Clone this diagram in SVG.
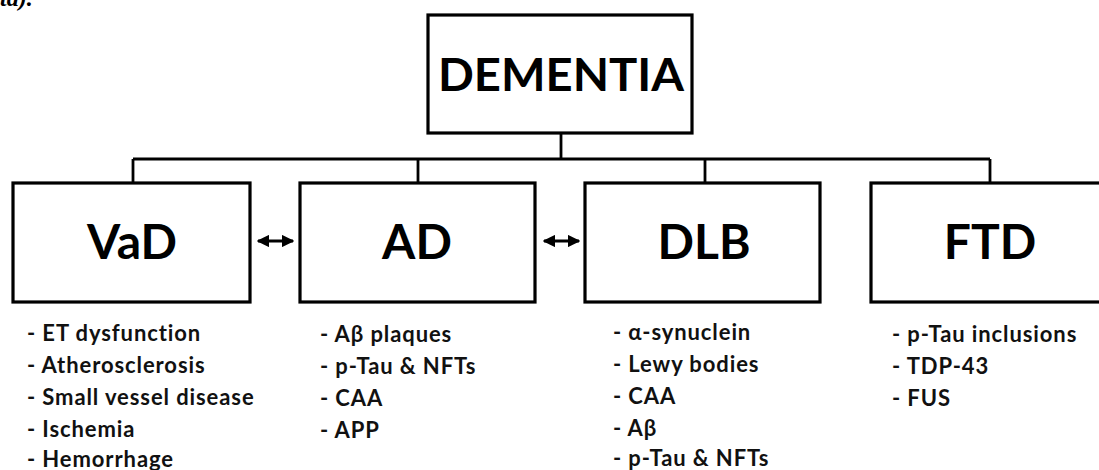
<svg xmlns="http://www.w3.org/2000/svg" width="1099" height="470" viewBox="0 0 1099 470">
<style>
.box{fill:#fff;stroke:#000;stroke-width:3.2}
.title{font-family:Lato,"Open Sans",sans-serif;font-weight:bold;fill:#000;text-anchor:middle}
.item{font-family:Lato,"Open Sans",sans-serif;font-weight:bold;font-size:22px;letter-spacing:0.9px;fill:#111}
.line{stroke:#000;stroke-width:2.8;fill:none}
.arr{stroke:#000;stroke-width:3;fill:none}
</style>
<defs>
<marker id="ah" viewBox="0 0 10 10" refX="9" refY="5" markerWidth="4.2" markerHeight="4.2" orient="auto-start-reverse" markerUnits="strokeWidth">
<path d="M0,0 L10,5 L0,10 z" fill="#000"/>
</marker>
</defs>
<rect width="1099" height="470" fill="#fff"/>
<text x="0" y="6" font-family="Liberation Serif, serif" font-weight="bold" font-style="italic" font-size="24" fill="#000">ta).</text>
<g id="connectors">
<line class="line" x1="561" y1="133" x2="561" y2="159"/>
<line class="line" x1="133" y1="159" x2="990" y2="159"/>
<line class="line" x1="133" y1="159" x2="133" y2="183"/>
<line class="line" x1="418" y1="159" x2="418" y2="183"/>
<line class="line" x1="705" y1="159" x2="705" y2="183"/>
<line class="line" x1="990" y1="159" x2="990" y2="183"/>
<line class="arr" x1="258" y1="241" x2="293" y2="241" marker-start="url(#ah)" marker-end="url(#ah)"/>
<line class="arr" x1="544" y1="241" x2="579" y2="241" marker-start="url(#ah)" marker-end="url(#ah)"/>
</g>
<g id="dementia">
<rect class="box" x="428" y="15" width="264" height="118"/>
<text class="title" x="561" y="91" font-size="46" textLength="246" lengthAdjust="spacingAndGlyphs">DEMENTIA</text>
</g>
<g id="vad">
<rect class="box" x="13" y="183" width="237" height="119"/>
<text class="title" x="132" y="259" font-size="48">VaD</text>
<text class="item" x="27" y="341">- ET dysfunction</text>
<text class="item" x="27" y="373">- Atherosclerosis</text>
<text class="item" x="27" y="405">- Small vessel disease</text>
<text class="item" x="27" y="437">- Ischemia</text>
<text class="item" x="27" y="467">- Hemorrhage</text>
</g>
<g id="ad">
<rect class="box" x="300" y="183" width="235" height="119"/>
<text class="title" x="417" y="259" font-size="48">AD</text>
<text class="item" x="320" y="342">- Aβ plaques</text>
<text class="item" x="320" y="374">- p-Tau  &amp; NFTs</text>
<text class="item" x="320" y="406">- CAA</text>
<text class="item" x="320" y="438">- APP</text>
</g>
<g id="dlb">
<rect class="box" x="585" y="183" width="235" height="119"/>
<text class="title" x="704" y="259" font-size="48">DLB</text>
<text class="item" x="613" y="340">- α-synuclein</text>
<text class="item" x="613" y="372">- Lewy bodies</text>
<text class="item" x="613" y="404">- CAA</text>
<text class="item" x="613" y="436">- Aβ</text>
<text class="item" x="613" y="466">- p-Tau  &amp; NFTs</text>
</g>
<g id="ftd">
<rect class="box" x="871" y="183" width="240" height="119"/>
<text class="title" x="990" y="259" font-size="48">FTD</text>
<text class="item" x="892" y="342">- p-Tau  inclusions</text>
<text class="item" x="892" y="374">- TDP-43</text>
<text class="item" x="892" y="406">- FUS</text>
</g>
</svg>
